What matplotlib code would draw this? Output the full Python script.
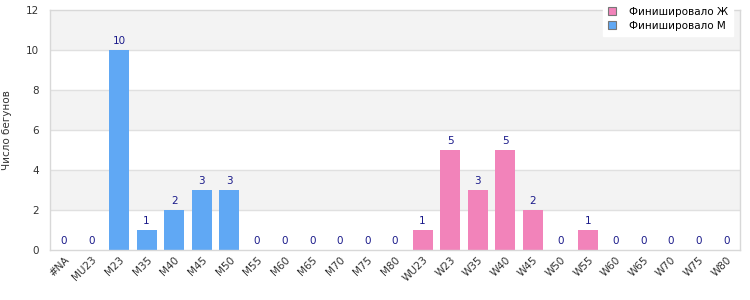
import matplotlib.pyplot as plt
import numpy as np
from matplotlib.patches import Patch

# --- DATA ---
categories = ["#NA", "MU23", "M23", "M35", "M40", "M45", "M50", "M55", "M60", "M65",
              "M70", "M75", "M80", "WU23", "W23", "W35", "W40", "W45", "W50", "W55",
              "W60", "W65", "W70", "W75", "W80"]
counts = [0, 0, 10, 1, 2, 3, 3, 0, 0, 0, 0, 0, 0, 1, 5, 3, 5, 2, 0, 1, 0, 0, 0, 0, 0]
sex = ["M"] * 13 + ["W"] * 12

COLOR_M = "#60a8f4"
COLOR_W = "#f283ba"
LABEL_COLOR = "#1a1a8a"

fig = plt.figure(figsize=(7.5, 3), dpi=100)
ax = fig.add_axes([50 / 750, 50 / 300, 690 / 750, 240 / 300])

x = np.arange(len(categories))
colors = [COLOR_M if s == "M" else COLOR_W for s in sex]

# alternating bands
for i, y0 in enumerate(range(0, 12, 2)):
    if i % 2 == 1:
        ax.axhspan(y0, y0 + 2, color="#f3f3f3", zorder=0, lw=0)
for y in range(2, 12, 2):
    ax.axhline(y, color="#e0e0e0", lw=1, zorder=1)

ax.bar(x, counts, width=0.72, color=colors, zorder=2)
for xi, c in zip(x, counts):
    ax.text(xi, c + 0.2, str(c), ha="center", va="bottom", fontsize=7.5,
            color=LABEL_COLOR, zorder=3)

ax.set_xlim(-0.5, len(categories) - 0.5)
ax.set_ylim(0, 12)
ax.set_yticks(range(0, 13, 2))
ax.set_xticks(x)
ax.set_xticklabels(categories, rotation=45, ha="right", rotation_mode="anchor")
ax.tick_params(axis="both", length=0, labelsize=7.5, colors="#333333")
ax.tick_params(axis="y", pad=8)
ax.set_ylabel("Число бегунов", fontsize=7.5, color="#333333", labelpad=10)

for sp in ax.spines.values():
    sp.set_color("#d8d8d8")
    sp.set_linewidth(1)

handles = [Patch(facecolor=COLOR_W, edgecolor="#777777", lw=0.8, label="Финишировало Ж"),
           Patch(facecolor=COLOR_M, edgecolor="#777777", lw=0.8, label="Финишировало М")]
leg = fig.legend(handles=handles, loc="upper right", bbox_to_anchor=(738 / 750, 1.012),
                 fontsize=7.5, frameon=True, fancybox=False, handlelength=0.8,
                 handleheight=0.8, handletextpad=1.2, borderpad=0.5, labelspacing=0.4)
leg.get_frame().set_facecolor("white")
leg.get_frame().set_edgecolor("white")
leg.get_frame().set_alpha(1)

fig.savefig("out.png", dpi=100)
